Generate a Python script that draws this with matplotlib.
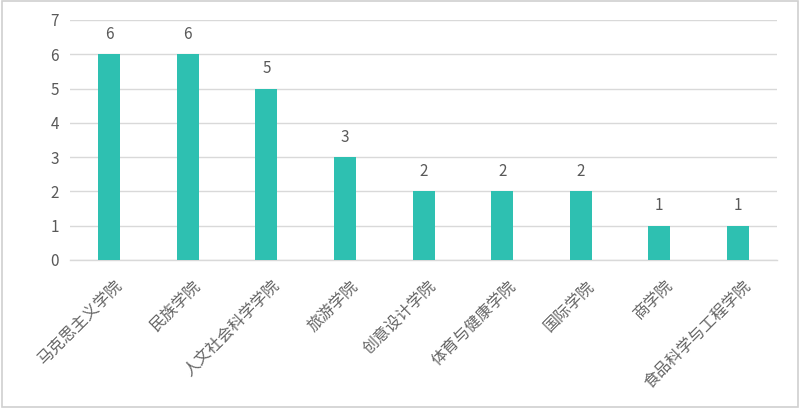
import matplotlib.pyplot as plt
from matplotlib.patches import Rectangle
from matplotlib.transforms import ScaledTranslation

plt.rcParams['font.family'] = ['Noto Sans CJK SC', 'DejaVu Sans']

colleges = ['马克思主义学院', '民族学院', '人文社会科学学院', '旅游学院', '创意设计学院',
            '体育与健康学院', '国际学院', '商学院', '食品科学与工程学院']
counts = [6, 6, 5, 3, 2, 2, 2, 1, 1]
yticks = [0, 1, 2, 3, 4, 5, 6, 7]

bar_color = '#2EC0B1'
text_color = '#595959'
grid_color = '#D9D9D9'

fig = plt.figure(figsize=(8, 4.08), dpi=100)
ax = fig.add_axes([0.0875, 0.363, 0.884, 0.588])

x = range(len(colleges))
ax.bar(x, counts, width=0.28, color=bar_color, zorder=3)
for xi, v in zip(x, counts):
    ax.text(xi, v + 0.33, str(v), ha='center', va='bottom', fontsize=11, color=text_color)

ax.set_xlim(-0.5, len(colleges) - 0.5)
ax.set_ylim(0, 7)
ax.set_yticks(yticks)
ax.set_yticklabels([str(t) for t in yticks], fontsize=11, color=text_color)
ax.set_xticks(list(x))
ax.set_xticklabels(colleges, rotation=45, ha='right', va='center', rotation_mode='anchor',
                   fontsize=11.5, color='#666666')
ax.tick_params(axis='both', length=0)
ax.tick_params(axis='x', pad=17)
ax.tick_params(axis='y', pad=8)
shift = ScaledTranslation(11 / 100, 0, fig.dpi_scale_trans)
for lbl in ax.get_xticklabels():
    lbl.set_transform(lbl.get_transform() + shift)
ax.grid(axis='y', color=grid_color, linewidth=1, zorder=0)
for s in ['top', 'right', 'left']:
    ax.spines[s].set_visible(False)
ax.spines['bottom'].set_color(grid_color)
ax.spines['bottom'].set_linewidth(1)

fig.patches.append(Rectangle((0.002, 0.003), 0.996, 0.994, transform=fig.transFigure,
                             fill=False, edgecolor='#D0D0D0', linewidth=1.2))

fig.savefig('out.png', dpi=100)
